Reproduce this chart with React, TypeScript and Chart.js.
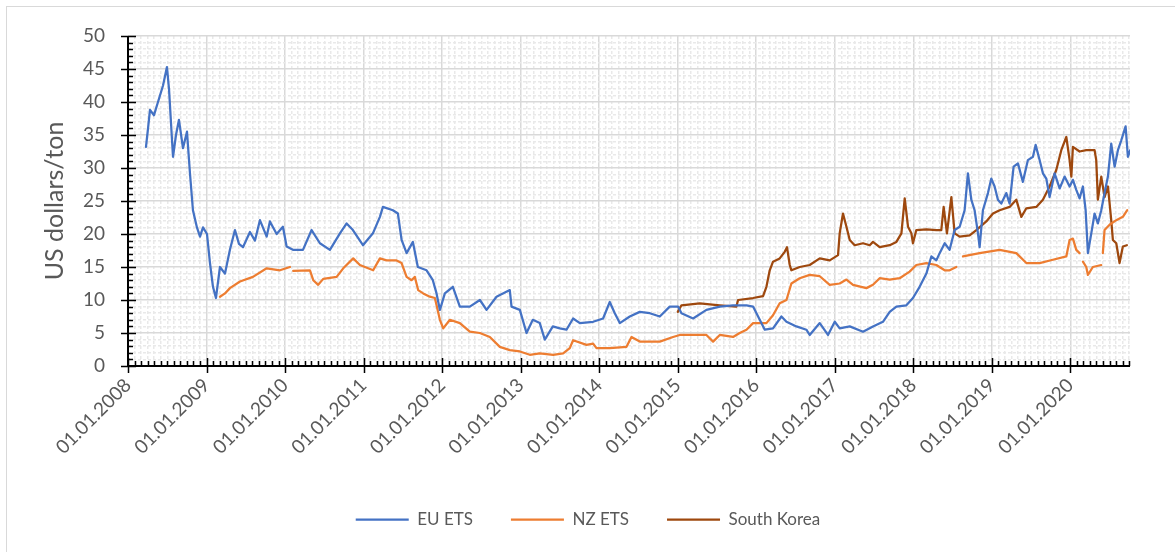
import React, { useEffect, useRef } from 'react';
import { Chart, registerables } from 'chart.js';

Chart.register(...registerables);

// ---- Data (decimal years, US dollars per ton) ----
const euYears = [
  2008.229, 2008.255, 2008.280, 2008.331, 2008.382, 2008.446, 2008.496, 2008.522, 2008.573, 2008.611,
  2008.649, 2008.700, 2008.751, 2008.789, 2008.827, 2008.878, 2008.917, 2008.955, 2009.006, 2009.044,
  2009.082, 2009.120, 2009.171, 2009.235, 2009.298, 2009.362, 2009.413, 2009.464, 2009.553, 2009.617,
  2009.680, 2009.766, 2009.807, 2009.893, 2009.973, 2010.020, 2010.100, 2010.228, 2010.338, 2010.444,
  2010.571, 2010.699, 2010.784, 2010.864, 2010.992, 2011.119, 2011.208, 2011.246, 2011.373, 2011.437,
  2011.484, 2011.548, 2011.628, 2011.691, 2011.802, 2011.882, 2011.929, 2011.972, 2012.035, 2012.137,
  2012.226, 2012.353, 2012.481, 2012.566, 2012.693, 2012.862, 2012.884, 2012.990, 2013.075, 2013.155,
  2013.244, 2013.308, 2013.410, 2013.499, 2013.584, 2013.668, 2013.754, 2013.923, 2014.050, 2014.135,
  2014.199, 2014.263, 2014.390, 2014.517, 2014.645, 2014.772, 2014.899, 2015.005, 2015.048, 2015.196,
  2015.366, 2015.536, 2015.705, 2015.876, 2015.960, 2016.045, 2016.109, 2016.214, 2016.321, 2016.385,
  2016.512, 2016.639, 2016.681, 2016.809, 2016.914, 2017.000, 2017.063, 2017.191, 2017.360, 2017.487,
  2017.614, 2017.700, 2017.785, 2017.912, 2017.996, 2018.081, 2018.167, 2018.230, 2018.294, 2018.336,
  2018.400, 2018.463, 2018.527, 2018.591, 2018.654, 2018.696, 2018.739, 2018.781, 2018.824, 2018.845,
  2018.887, 2018.951, 2018.994, 2019.036, 2019.078, 2019.121, 2019.185, 2019.227, 2019.278, 2019.333,
  2019.396, 2019.460, 2019.524, 2019.558, 2019.609, 2019.651, 2019.694, 2019.736, 2019.800, 2019.864,
  2019.927, 2019.991, 2020.033, 2020.076, 2020.118, 2020.160, 2020.195, 2020.224, 2020.267, 2020.309,
  2020.351, 2020.394, 2020.436, 2020.479, 2020.521, 2020.564, 2020.606, 2020.649, 2020.704, 2020.733, 2020.763,
];
const euPrices = [
  33.2, 36, 38.8, 38, 40, 42.5, 45.3, 42, 31.7, 35,
  37.3, 33, 35.5, 29.2, 23.6, 21, 19.6, 21, 20, 15.6,
  12, 10.3, 15, 14, 17.6, 20.6, 18.5, 18, 20.3, 19,
  22.1, 19.6, 21.9, 20, 21.1, 18.1, 17.6, 17.6, 20.6, 18.6,
  17.6, 20.1, 21.6, 20.6, 18.3, 20.1, 22.6, 24.1, 23.6, 23.1,
  19.1, 17.1, 18.8, 15, 14.5, 13, 11, 8.5, 11, 12,
  9, 9, 10, 8.5, 10.5, 11.5, 9, 8.5, 5, 7,
  6.5, 4, 6, 5.7, 5.5, 7.2, 6.5, 6.7, 7.2, 9.7,
  8, 6.5, 7.5, 8.2, 8, 7.5, 9, 9, 8, 7.2,
  8.5, 9, 9.2, 9.2, 9, 7, 5.5, 5.7, 7.5, 6.7,
  6, 5.5, 4.7, 6.5, 4.7, 6.7, 5.7, 6, 5.2, 6,
  6.7, 8.2, 9, 9.2, 10.3, 12, 14, 16.6, 16, 17.1,
  18.6, 17.6, 20.6, 21.1, 23.6, 29.2, 25.2, 23.6, 20.1, 18,
  23.6, 26.2, 28.4, 27.2, 25.2, 24.6, 26.2, 24.6, 30.2, 30.7,
  27.9, 31.2, 31.7, 33.5, 31.2, 29.2, 28.4, 25.6, 29.2, 26.9,
  28.7, 27.2, 28.2, 26.7, 25.4, 27.2, 23.6, 17.1, 20.1, 23.1,
  21.6, 23.6, 26.2, 28.7, 33.7, 30.2, 32.7, 34.2, 36.3, 31.7, 32.7,
];

const nzYears = [
  2009.171, 2009.235, 2009.298, 2009.426, 2009.591, 2009.766, 2009.935, 2010.062, 2010.084, 2010.104,
  2010.317, 2010.359, 2010.422, 2010.486, 2010.657, 2010.741, 2010.868, 2010.953, 2011.122, 2011.208,
  2011.293, 2011.420, 2011.484, 2011.548, 2011.611, 2011.653, 2011.695, 2011.759, 2011.844, 2011.908,
  2011.972, 2012.014, 2012.099, 2012.226, 2012.353, 2012.481, 2012.608, 2012.735, 2012.862, 2012.990,
  2013.117, 2013.244, 2013.414, 2013.541, 2013.626, 2013.668, 2013.839, 2013.923, 2013.966, 2014.135,
  2014.348, 2014.412, 2014.517, 2014.772, 2014.941, 2015.026, 2015.196, 2015.366, 2015.451, 2015.536,
  2015.705, 2015.790, 2015.876, 2015.960, 2016.130, 2016.214, 2016.299, 2016.385, 2016.448, 2016.554,
  2016.681, 2016.809, 2016.936, 2017.063, 2017.149, 2017.233, 2017.403, 2017.487, 2017.572, 2017.700,
  2017.827, 2017.954, 2018.039, 2018.167, 2018.294, 2018.400, 2018.463, 2018.548, 2018.591, 2018.633,
  2018.845, 2019.100, 2019.312, 2019.440, 2019.609, 2019.778, 2019.949, 2019.991, 2020.033, 2020.076,
  2020.118, 2020.140, 2020.160, 2020.203, 2020.224, 2020.287, 2020.394, 2020.404, 2020.414, 2020.436,
  2020.500, 2020.585, 2020.669, 2020.725,
];
const nzPrices = [
  10.5, 11, 11.8, 12.8, 13.5, 14.8, 14.5, 15, null, 14.4,
  14.5, 13, 12.3, 13.2, 13.5, 14.8, 16.3, 15.3, 14.5, 16.3,
  16, 16, 15.6, 13.5, 13, 13.5, 11.5, 11, 10.5, 10.3,
  7, 5.7, 7, 6.5, 5.2, 5, 4.4, 2.9, 2.4, 2.2,
  1.7, 1.9, 1.7, 1.9, 2.7, 3.9, 3.2, 3.4, 2.7, 2.7,
  2.9, 4.4, 3.7, 3.7, 4.4, 4.7, 4.7, 4.7, 3.7, 4.7,
  4.4, 5, 5.5, 6.5, 6.5, 7.7, 9.5, 10, 12.5, 13.3,
  13.8, 13.6, 12.3, 12.5, 13.1, 12.3, 11.8, 12.3, 13.3, 13.1,
  13.3, 14.3, 15.3, 15.6, 15.3, 14.5, 14.5, 15, null, 16.6,
  17.1, 17.6, 17.1, 15.6, 15.6, 16.1, 16.6, 19.1, 19.3, 17.6,
  17.1, null, 15.8, 15, 13.8, 15, 15.3, null, 17.1, 20.6,
  21.4, 22.1, 22.6, 23.6,
];

const krYears = [
  2015.001, 2015.048, 2015.281, 2015.536, 2015.748, 2015.769, 2015.960, 2016.087, 2016.130, 2016.172,
  2016.214, 2016.299, 2016.363, 2016.392, 2016.427, 2016.448, 2016.554, 2016.681, 2016.809, 2016.936,
  2017.042, 2017.063, 2017.105, 2017.149, 2017.191, 2017.254, 2017.360, 2017.445, 2017.487, 2017.572,
  2017.700, 2017.785, 2017.849, 2017.891, 2017.933, 2017.976, 2017.996, 2018.039, 2018.167, 2018.294,
  2018.357, 2018.387, 2018.429, 2018.485, 2018.527, 2018.591, 2018.718, 2018.803, 2018.930, 2019.015,
  2019.100, 2019.227, 2019.312, 2019.376, 2019.440, 2019.567, 2019.651, 2019.736, 2019.821, 2019.885,
  2019.949, 2019.991, 2020.013, 2020.033, 2020.118, 2020.203, 2020.309, 2020.330, 2020.351, 2020.394,
  2020.436, 2020.479, 2020.521, 2020.542, 2020.585, 2020.627, 2020.669, 2020.720,
];
const krPrices = [
  8.2, 9.2, 9.5, 9.2, 9, 10, 10.3, 10.6, 12, 14.5,
  15.8, 16.3, 17.3, 18, 15.3, 14.5, 15, 15.3, 16.3, 16,
  16.8, 20.1, 23.1, 21.1, 19.1, 18.3, 18.6, 18.3, 18.8, 18,
  18.3, 18.8, 20.1, 25.4, 21.1, 20.1, 18.6, 20.6, 20.7, 20.6,
  20.6, 24.1, 20.1, 25.6, 20.1, 19.6, 19.8, 20.6, 21.9, 23.1,
  23.6, 24.1, 25.2, 22.6, 23.9, 24.1, 25.2, 27.2, 29.7, 32.7,
  34.7, 31.2, 28.7, 33.2, 32.5, 32.7, 32.7, 31.2, 25.2, 28.7,
  25.6, 27.2, 22.1, 19.1, 18.6, 15.6, 18.1, 18.3,
];

const seriesNames = ['EU ETS', 'NZ ETS', 'South Korea'];
const seriesColors = ['#4472C4', '#ED7D31', '#9E480E'];
const yearLabels = [
  '01.01.2008', '01.01.2009', '01.01.2010', '01.01.2011', '01.01.2012', '01.01.2013', '01.01.2014',
  '01.01.2015', '01.01.2016', '01.01.2017', '01.01.2018', '01.01.2019', '01.01.2020',
];
const yTitle = 'US dollars/ton';
const X_MIN = 2008;
const X_MAX = 2020.76;
const Y_MIN = 0;
const Y_MAX = 50;

const FONT = 'Lato, "Open Sans", sans-serif';
const GREY_TEXT = '#595959';

const toPoints = (xs: number[], ys: (number | null)[]) => xs.map((x, i) => ({ x, y: ys[i] }));

const monthTicks = (): { value: number }[] => {
  const out: { value: number }[] = [];
  for (let yi = 0; yi < yearLabels.length; yi++) {
    for (let m = 0; m < 12; m++) {
      const v = X_MIN + yi + m / 12;
      if (v <= X_MAX + 1e-9) out.push({ value: v });
    }
  }
  return out;
};
const unitTicks = (): { value: number }[] => {
  const out: { value: number }[] = [];
  for (let v = Y_MIN; v <= Y_MAX; v++) out.push({ value: v });
  return out;
};
const isYearTick = (v: number) => Math.abs(v - Math.round(v)) < 1e-6;
const isFiveTick = (v: number) => Math.round(v) % 5 === 0;

// Centre the legend on the whole canvas (the layout box stops at the right padding)
const legendShift = {
  id: 'legendShift',
  afterLayout(chart: any) {
    const lg = chart.legend;
    if (lg) {
      lg.left += 23;
      lg.right += 23;
    }
  },
};

const axisMarks = {
  id: 'axisMarks',
  afterDatasetsDraw(chart: any) {
    const { ctx, chartArea: a, scales } = chart;
    const xs = scales.x;
    const ys = scales.y;
    const y0 = ys.getPixelForValue(0);
    ctx.save();
    ctx.strokeStyle = '#000000';
    ctx.lineWidth = 1.5;
    ctx.beginPath();
    xs.ticks.forEach((t: any) => {
      const px = Math.round(xs.getPixelForValue(t.value)) + 0.5;
      if (isYearTick(t.value)) {
        ctx.moveTo(px, y0 - 8);
        ctx.lineTo(px, y0 + 7);
      } else {
        ctx.moveTo(px, y0 - 5);
        ctx.lineTo(px, y0);
      }
    });
    ys.ticks.forEach((t: any) => {
      const py = Math.round(ys.getPixelForValue(t.value)) + 0.5;
      if (isFiveTick(t.value)) {
        ctx.moveTo(a.left - 7, py);
        ctx.lineTo(a.left + 8, py);
      } else {
        ctx.moveTo(a.left, py);
        ctx.lineTo(a.left + 5, py);
      }
    });
    ctx.stroke();
    ctx.lineWidth = 2;
    ctx.beginPath();
    ctx.moveTo(a.left, a.top);
    ctx.lineTo(a.left, y0);
    ctx.lineTo(a.right, y0);
    ctx.stroke();
    ctx.restore();
  },
};

export default function App() {
  const canvasRef = useRef<HTMLCanvasElement | null>(null);

  useEffect(() => {
    const canvas = canvasRef.current;
    if (!canvas) return;
    const allYears = [euYears, nzYears, krYears];
    const allPrices = [euPrices, nzPrices, krPrices];
    const chart = new Chart(canvas, {
      type: 'line',
      data: {
        datasets: seriesNames.map((name, i) => ({
          label: name,
          data: toPoints(allYears[i], allPrices[i]),
          borderColor: seriesColors[i],
          backgroundColor: seriesColors[i],
          borderWidth: 2.25,
          pointRadius: 0,
          pointHoverRadius: 0,
          tension: 0,
          spanGaps: false,
          borderJoinStyle: 'round',
          borderCapStyle: 'round',
          fill: false,
        })),
      },
      options: {
        responsive: false,
        animation: false,
        devicePixelRatio: 1,
        layout: { padding: { top: 36, right: 45, bottom: 14, left: 0 } },
        plugins: {
          tooltip: { enabled: false },
          legend: {
            display: true,
            position: 'bottom',
            align: 'center',
            labels: {
              usePointStyle: true,
              pointStyle: 'line',
              pointStyleWidth: 53,
              padding: 38,
              color: GREY_TEXT,
              font: { family: FONT, size: 17 },
            },
          },
        },
        scales: {
          x: {
            type: 'linear',
            min: X_MIN,
            max: X_MAX,
            afterBuildTicks: (axis: any) => {
              axis.ticks = monthTicks();
            },
            afterFit: (axis: any) => {
              axis.height = 107;
            },
            ticks: {
              autoSkip: false,
              minRotation: 45,
              maxRotation: 45,
              padding: 8,
              color: GREY_TEXT,
              font: { family: FONT, size: 19 },
              callback: (value: any, index: number) =>
                index % 12 === 0 ? yearLabels[index / 12] : '',
            },
            grid: {
              drawTicks: false,
              color: (c: any) => (c.tick && isYearTick(c.tick.value) ? '#d9d9d9' : '#e9e9e9'),
              lineWidth: 1.5,
            },
            border: {
              display: false,
              dash: (c: any) => (c.tick && !isYearTick(c.tick.value) ? [3, 2] : []),
            },
          },
          y: {
            type: 'linear',
            min: Y_MIN,
            max: Y_MAX,
            afterBuildTicks: (axis: any) => {
              axis.ticks = unitTicks();
            },
            afterFit: (axis: any) => {
              axis.width = 128;
            },
            title: {
              display: true,
              text: yTitle,
              color: GREY_TEXT,
              font: { family: FONT, size: 25, weight: 'normal' },
              padding: { top: 40, bottom: 0 },
            },
            ticks: {
              autoSkip: false,
              padding: 23,
              color: GREY_TEXT,
              font: { family: FONT, size: 19 },
              callback: (value: any) => (isFiveTick(Number(value)) ? String(value) : ''),
            },
            grid: {
              drawTicks: false,
              color: (c: any) => (c.tick && isFiveTick(c.tick.value) ? '#d9d9d9' : '#e9e9e9'),
              lineWidth: 1.5,
            },
            border: {
              display: false,
              dash: (c: any) => (c.tick && !isFiveTick(c.tick.value) ? [3, 2] : []),
            },
          },
        },
      },
      plugins: [axisMarks, legendShift],
    } as any);
    return () => chart.destroy();
  }, []);

  return (
    <div
      style={{
        position: 'fixed',
        left: 0,
        top: 0,
        width: 1175,
        height: 552,
        overflow: 'hidden',
        background: '#ffffff',
      }}
    >
      <div
        style={{
          position: 'absolute',
          left: 6,
          top: 6,
          width: 1200,
          height: 600,
          border: '1px solid #d9d9d9',
        }}
      />
      <canvas
        ref={canvasRef}
        width={1175}
        height={552}
        style={{ position: 'absolute', left: 0, top: 0, width: 1175, height: 552 }}
      />
    </div>
  );
}
